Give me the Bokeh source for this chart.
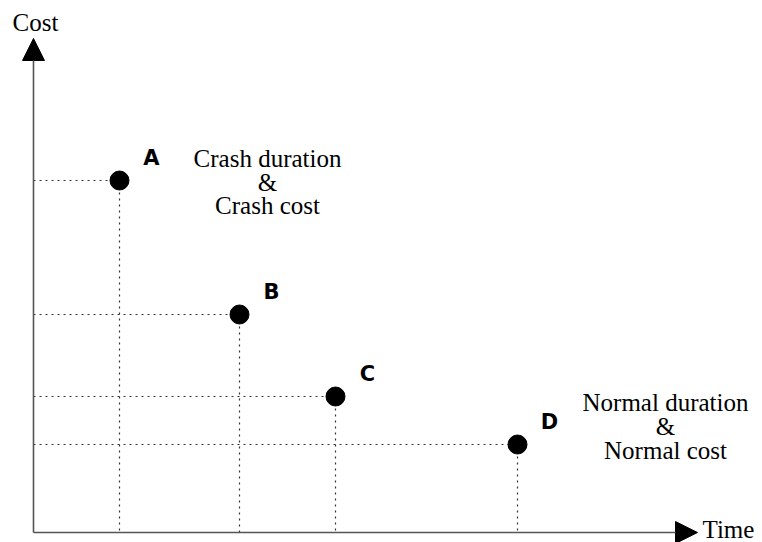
from bokeh.plotting import figure
from bokeh.models import Range1d, Arrow, NormalHead, Label, ColumnDataSource
from bokeh.core.properties import value
from bokeh.embed import file_html
from bokeh.resources import INLINE

# Data (abstract units: time, cost)
names = ["A", "B", "C", "D"]
time = [8.6, 20.6, 30.2, 48.4]
cost = [35.2, 21.8, 13.6, 8.8]

crash_lines = ["Crash duration", "&", "Crash cost"]
normal_lines = ["Normal duration", "&", "Normal cost"]
x_title = "Time"
y_title = "Cost"

W, H = 762, 542
p = figure(width=W, height=H, output_backend="svg", toolbar_location=None,
           x_range=Range1d(-3.3, 72.9), y_range=Range1d(-1.0, 53.2),
           min_border=0, min_border_left=0, min_border_right=0,
           min_border_top=0, min_border_bottom=0)
p.axis.visible = False
p.grid.visible = False
p.outline_line_color = None
p.background_fill_color = "white"
p.border_fill_color = "white"

src = ColumnDataSource(dict(name=names, t=time, c=cost, zero=[0] * len(names)))

dot_col = "#333333"
p.segment(x0="zero", y0="c", x1="t", y1="c", source=src,
          line_color=dot_col, line_dash="2 4", line_width=1.2)
p.segment(x0="t", y0="c", x1="t", y1="zero", source=src,
          line_color=dot_col, line_dash="2 4", line_width=1.2)

axis_col = "#555555"
p.add_layout(Arrow(x_start=0, y_start=0, x_end=0, y_end=49.4,
                   line_color=axis_col, line_width=1.6,
                   end=NormalHead(size=22, fill_color="black", line_color="black")))
p.add_layout(Arrow(x_start=0, y_start=0, x_end=66.4, y_end=0,
                   line_color=axis_col, line_width=1.6,
                   end=NormalHead(size=22, fill_color="black", line_color="black")))

p.scatter(x="t", y="c", source=src, size=19, fill_color="black", line_color="black")

p.text(x="t", y="c", text="name", source=src, x_offset=32, y_offset=-23,
       text_font=value("DejaVu Sans"), text_font_style="bold",
       text_font_size="21px", text_align="center", text_baseline="middle",
       text_color="black")

serif = "Liberation Serif"
fs = "25px"
for ln, yy in zip(crash_lines, [37.4, 35.05, 32.7]):
    p.add_layout(Label(x=23.4, y=yy, text=ln, text_font=serif, text_font_size=fs,
                       text_align="center", text_baseline="middle", text_color="black"))
for ln, yy in zip(normal_lines, [13.0, 10.6, 8.2]):
    p.add_layout(Label(x=63.2, y=yy, text=ln, text_font=serif, text_font_size=fs,
                       text_align="center", text_baseline="middle", text_color="black"))

p.add_layout(Label(x=0.2, y=51.0, text=y_title, text_font=serif, text_font_size=fs,
                   text_align="center", text_baseline="middle", text_color="black"))
p.add_layout(Label(x=66.9, y=0.3, text=x_title, text_font=serif, text_font_size=fs,
                   text_align="left", text_baseline="middle", text_color="black"))

open("out.html", "w").write(file_html(p, INLINE))
